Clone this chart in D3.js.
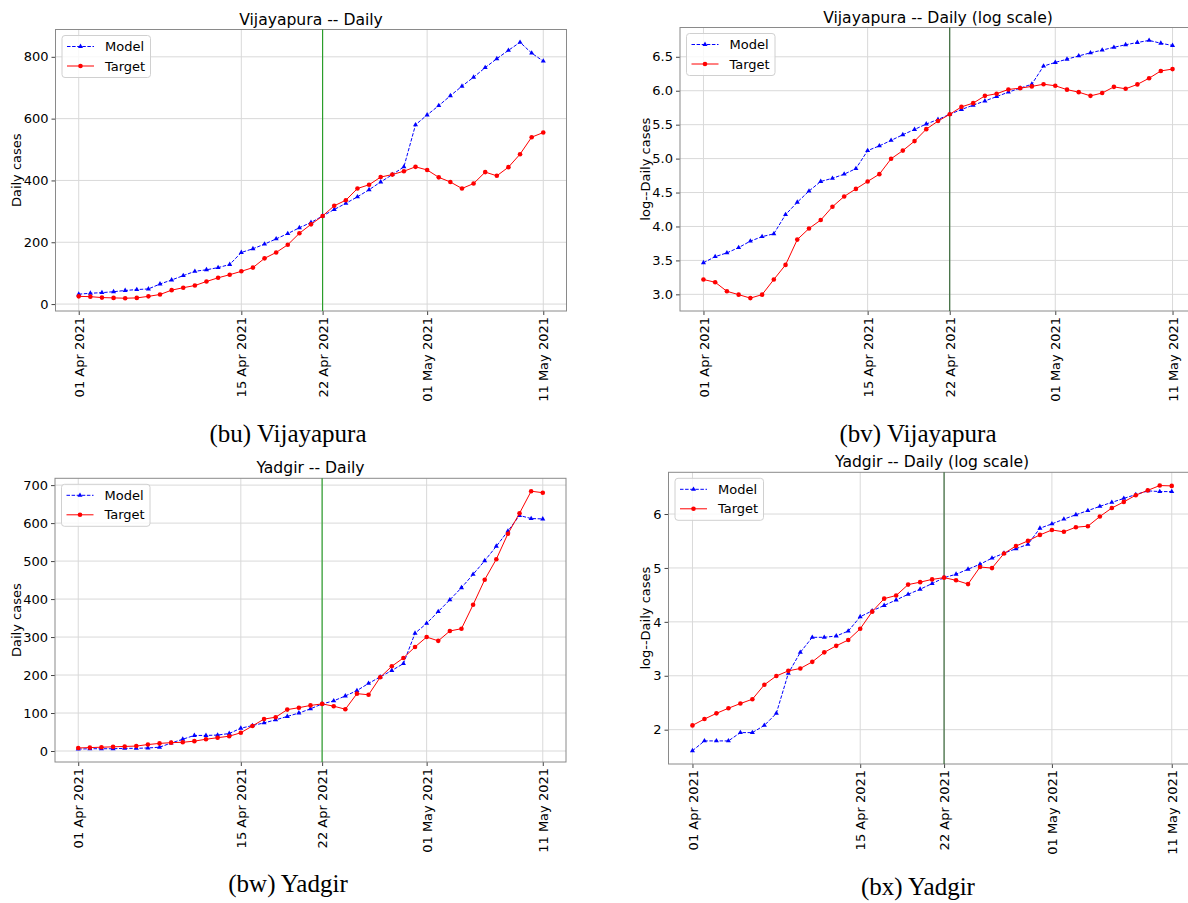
<!DOCTYPE html>
<html>
<head>
<meta charset="utf-8">
<script src="https://cdn.jsdelivr.net/npm/d3@7"></script>
<style>
  body { margin: 0; background: #fff; }
  svg { display: block; font-family: "DejaVu Sans", sans-serif; }
</style>
</head>
<body>
<svg id="chart" width="1188" height="903"></svg>
<script>
// ---------------- DATA ----------------
const dates = [
  "2021-04-01","2021-04-02","2021-04-03","2021-04-04","2021-04-05","2021-04-06","2021-04-07",
  "2021-04-08","2021-04-09","2021-04-10","2021-04-11","2021-04-12","2021-04-13","2021-04-14",
  "2021-04-15","2021-04-16","2021-04-17","2021-04-18","2021-04-19","2021-04-20","2021-04-21",
  "2021-04-22","2021-04-23","2021-04-24","2021-04-25","2021-04-26","2021-04-27","2021-04-28",
  "2021-04-29","2021-04-30","2021-05-01","2021-05-02","2021-05-03","2021-05-04","2021-05-05",
  "2021-05-06","2021-05-07","2021-05-08","2021-05-09","2021-05-10","2021-05-11"
];
const vijayapuraModel = [32,35,37,40,44,47,49,65,78,92,106,111,118,128,167,179,194,211,228,247,
  264,285,306,326,347,370,395,419,444,580,612,642,674,705,734,765,794,821,847,812,786];
const vijayapuraTarget = [25,24,21,20,19,20,25,31,45,53,60,73,85,95,106,118,148,167,192,229,
  258,285,318,336,374,386,411,419,430,444,434,410,395,374,390,427,415,443,485,540,555];
const yadgirModel = [5,6,6,6,7,7,8,10,21,31,41,41,42,46,60,67,74,82,91,100,
  111,124,132,145,159,178,195,212,230,310,336,367,398,430,465,501,539,579,620,612,611];
const yadgirTarget = [8,9,10,11,12,13,17,20,22,23,26,31,35,39,48,66,84,89,109,114,
  120,124,118,110,151,148,194,223,245,274,300,290,316,322,385,451,505,572,626,684,680];
const xTickDates = ["2021-04-01","2021-04-15","2021-04-22","2021-05-01","2021-05-11"];
const splitDate = "2021-04-22";
const linTicks1 = [0,200,400,600,800];
const logTicks1 = [3.0,3.5,4.0,4.5,5.0,5.5,6.0,6.5];
const linTicks2 = [0,100,200,300,400,500,600,700];
const logTicks2 = [2,3,4,5,6];
const seriesNames = ["Model","Target"];

// ---------------- DRAW ----------------
const FONT = "'DejaVu Sans', sans-serif";
const svg = d3.select("#chart");
const parse = d3.utcParse("%Y-%m-%d");
const days = dates.map(parse);
const fmt = d3.utcFormat("%d %b %Y");

function drawPanel(cfg) {
  const {l, r, t, b} = cfg;
  const tr = cfg.log ? (v => Math.log(v)) : (v => v);
  const m = cfg.model.map(tr), tg = cfg.target.map(tr);
  const all = m.concat(tg);
  const lo = d3.min(all), hi = d3.max(all), pad = (hi - lo) * 0.05;
  const x = d3.scaleUtc()
    .domain([d3.utcDay.offset(days[0], -2), d3.utcDay.offset(days[days.length-1], 2)])
    .range([l, r]);
  const y = d3.scaleLinear().domain([lo - pad, hi + pad]).range([b, t]);
  const g = svg.append("g");

  // grid
  const xt = xTickDates.map(parse);
  g.selectAll(".gx").data(xt).join("line")
    .attr("x1", d => x(d)).attr("x2", d => x(d)).attr("y1", t).attr("y2", b)
    .attr("stroke", "#d9d9d9").attr("stroke-width", 1);
  g.selectAll(".gy").data(cfg.yTicks).join("line")
    .attr("x1", l).attr("x2", r).attr("y1", d => y(d)).attr("y2", d => y(d))
    .attr("stroke", "#d9d9d9").attr("stroke-width", 1);

  // axes
  const xa = g.append("g").attr("transform", `translate(0,${b})`)
    .call(d3.axisBottom(x).tickValues(xt).tickFormat(fmt).tickSize(4).tickSizeOuter(0))
    .attr("font-family", FONT).attr("font-size", 13);
  xa.select(".domain").remove();
  xa.selectAll(".tick line").attr("stroke", "#444");
  xa.selectAll(".tick text")
    .attr("font-family", FONT).attr("font-size", 13).attr("fill", "#000")
    .attr("transform", "rotate(-90)")
    .attr("text-anchor", "end")
    .attr("x", -6).attr("y", 0).attr("dy", "0.35em");
  const ya = g.append("g").attr("transform", `translate(${l},0)`)
    .call(d3.axisLeft(y).tickValues(cfg.yTicks).tickFormat(cfg.yFmt).tickSize(4).tickSizeOuter(0))
    .attr("font-family", FONT).attr("font-size", 13);
  ya.select(".domain").remove();
  ya.selectAll(".tick line").attr("stroke", "#444");
  ya.selectAll(".tick text").attr("font-family", FONT).attr("font-size", 13)
    .attr("fill", "#000").attr("x", -7);

  // frame
  g.append("rect").attr("x", l).attr("y", t).attr("width", r - l).attr("height", b - t)
    .attr("fill", "none").attr("stroke", "#8a8a8a").attr("stroke-width", 1);

  // split line
  g.append("line").attr("x1", x(parse(splitDate))).attr("x2", x(parse(splitDate)))
    .attr("y1", t).attr("y2", b).attr("stroke", cfg.vColor).attr("stroke-width", 1.1);

  // series
  const line = d3.line().x((d, i) => x(days[i])).y(d => y(d));
  g.append("path").datum(m).attr("d", line).attr("fill", "none")
    .attr("stroke", "#0000ff").attr("stroke-width", 1).attr("stroke-dasharray", "3.5,1.6");
  const tri = d3.symbol().type(d3.symbolTriangle).size(11);
  g.selectAll(".mm").data(m).join("path")
    .attr("d", tri).attr("transform", (d, i) => `translate(${x(days[i])},${y(d)})`)
    .attr("fill", "#0000ff");
  g.append("path").datum(tg).attr("d", line).attr("fill", "none")
    .attr("stroke", "#ff0000").attr("stroke-width", 1);
  g.selectAll(".tm").data(tg).join("circle")
    .attr("cx", (d, i) => x(days[i])).attr("cy", d => y(d)).attr("r", 2.3)
    .attr("fill", "#ff0000");

  // title
  g.append("text").attr("x", (l + r) / 2).attr("y", t - 5)
    .attr("text-anchor", "middle").attr("font-size", 15.6).text(cfg.title);
  // y label
  g.append("text").attr("transform", `translate(${cfg.ylx},${(t + b) / 2}) rotate(-90)`)
    .attr("text-anchor", "middle").attr("font-size", 13).text(cfg.ylabel);

  // legend
  const lx = l + 6.5, ly = t + 6;
  const lg = g.append("g");
  lg.append("rect").attr("x", lx).attr("y", ly).attr("width", 88.5).attr("height", 42)
    .attr("rx", 3).attr("fill", "#fff").attr("fill-opacity", 0.8)
    .attr("stroke", "#d0d0d0").attr("stroke-width", 1);
  const rows = [ly + 11, ly + 30.5];
  lg.append("line").attr("x1", lx + 5).attr("x2", lx + 32).attr("y1", rows[0]).attr("y2", rows[0])
    .attr("stroke", "#0000ff").attr("stroke-dasharray", "3.5,1.6");
  lg.append("path").attr("d", tri).attr("transform", `translate(${lx + 18.5},${rows[0]})`).attr("fill", "#0000ff");
  lg.append("line").attr("x1", lx + 5).attr("x2", lx + 32).attr("y1", rows[1]).attr("y2", rows[1])
    .attr("stroke", "#ff0000");
  lg.append("circle").attr("cx", lx + 18.5).attr("cy", rows[1]).attr("r", 2.3).attr("fill", "#ff0000");
  seriesNames.forEach((n, i) => {
    lg.append("text").attr("x", lx + 43).attr("y", rows[i]).attr("dy", "0.35em")
      .attr("font-size", 13).text(n);
  });

  // caption
  svg.append("text").attr("x", cfg.capX).attr("y", cfg.capY).attr("text-anchor", "middle")
    .attr("font-family", "'Liberation Serif', 'DejaVu Serif', serif").attr("font-size", 25)
    .text(cfg.caption);
}

const f0 = d3.format("d"), f1 = d3.format(".1f");
drawPanel({l: 55.5, r: 566.5, t: 29.5, b: 311, model: vijayapuraModel, target: vijayapuraTarget,
  log: false, yTicks: linTicks1, yFmt: f0, title: "Vijayapura -- Daily", ylabel: "Daily cases",
  ylx: 21, vColor: "#1e9a1e", caption: "(bu) Vijayapura", capX: 288, capY: 442});
drawPanel({l: 680, r: 1196, t: 27.5, b: 311, model: vijayapuraModel, target: vijayapuraTarget,
  log: true, yTicks: logTicks1, yFmt: f1, title: "Vijayapura -- Daily (log scale)", ylabel: "log--Daily cases",
  ylx: 650, vColor: "#2b5e2b", caption: "(bv) Vijayapura", capX: 918, capY: 442});
drawPanel({l: 55, r: 566, t: 478.3, b: 762, model: yadgirModel, target: yadgirTarget,
  log: false, yTicks: linTicks2, yFmt: f0, title: "Yadgir -- Daily", ylabel: "Daily cases",
  ylx: 21, vColor: "#1e9a1e", caption: "(bw) Yadgir", capX: 288, capY: 892});
drawPanel({l: 668.5, r: 1195.7, t: 472.3, b: 764, model: yadgirModel, target: yadgirTarget,
  log: true, yTicks: logTicks2, yFmt: f0, title: "Yadgir -- Daily (log scale)", ylabel: "log--Daily cases",
  ylx: 650, vColor: "#2b5e2b", caption: "(bx) Yadgir", capX: 918, capY: 895});
</script>
</body>
</html>
